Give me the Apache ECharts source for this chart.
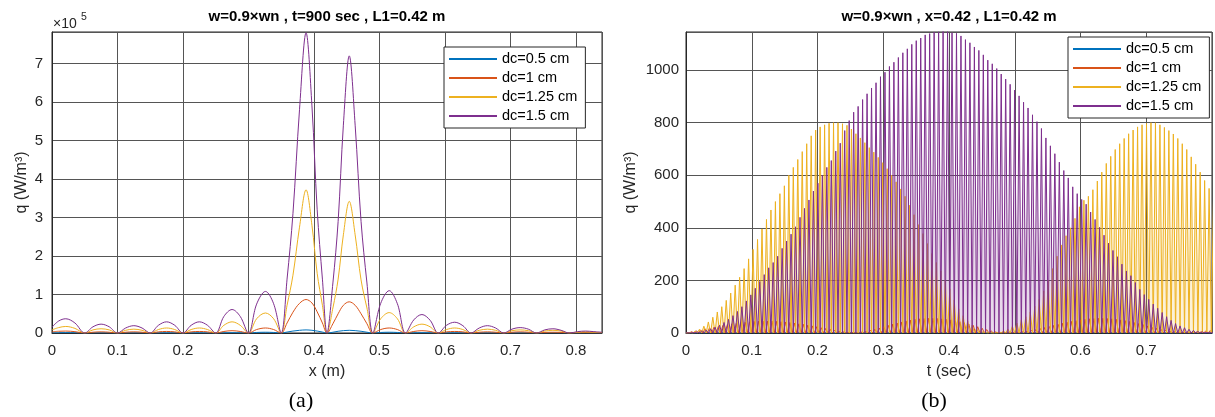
<!DOCTYPE html>
<html><head><meta charset="utf-8">
<script src="https://cdn.jsdelivr.net/npm/echarts@6/dist/echarts.min.js"></script>
<style>html,body{margin:0;padding:0;background:#fff}#c{width:1215px;height:417px}</style>
</head><body><div id="c"></div>
<script>
// ---------- data ----------
const seriesNames = ['dc=0.5 cm', 'dc=1 cm', 'dc=1.25 cm', 'dc=1.5 cm'];
const colors = ['#0072BD', '#D95319', '#EDB120', '#7E2F8E'];

// Chart (a): q (x10^5 W/m3) vs x (m)
const xA = [
  0, 0.01, 0.021, 0.035,
  0.05, 0.0625, 0.075, 0.0875,
  0.1, 0.1125, 0.125, 0.1375,
  0.15, 0.1625, 0.175, 0.1875,
  0.2, 0.2125, 0.225, 0.2375,
  0.25, 0.2625, 0.275, 0.2875,
  0.3, 0.3125, 0.326, 0.3385,
  0.35, 0.359, 0.368, 0.378, 0.388, 0.397, 0.405, 0.413,
  0.42, 0.429, 0.437, 0.445, 0.454, 0.463, 0.472, 0.481,
  0.49, 0.502, 0.515, 0.5275,
  0.54, 0.5525, 0.565, 0.5775,
  0.59, 0.6025, 0.615, 0.6275,
  0.64, 0.6525, 0.665, 0.6775,
  0.69, 0.7025, 0.715, 0.7275,
  0.74, 0.7525, 0.765, 0.7775,
  0.79, 0.8025, 0.815, 0.8275,
  0.84];
const qA_05 = [
  0.005, 0.008, 0.01, 0.007,
  0, 0.004, 0.006, 0.004,
  0, 0.004, 0.006, 0.004,
  0, 0.004, 0.006, 0.004,
  0, 0.004, 0.006, 0.004,
  0, 0.006, 0.008, 0.006,
  0, 0.014, 0.02, 0.014,
  0, 0.025, 0.05, 0.07, 0.08, 0.07, 0.05, 0.025,
  0, 0.02, 0.045, 0.062, 0.07, 0.062, 0.045, 0.02,
  0, 0.014, 0.02, 0.014,
  0, 0.006, 0.008, 0.006,
  0, 0.004, 0.006, 0.004,
  0, 0.004, 0.006, 0.004,
  0, 0.004, 0.006, 0.004,
  0, 0.004, 0.006, 0.004,
  0, 0.003, 0.004, 0.003,
  0];
const qA_1 = [
  0.03, 0.045, 0.05, 0.035,
  0, 0.02, 0.03, 0.02,
  0, 0.02, 0.03, 0.02,
  0, 0.03, 0.04, 0.03,
  0, 0.03, 0.04, 0.03,
  0, 0.04, 0.06, 0.04,
  0, 0.09, 0.13, 0.09,
  0, 0.26, 0.54, 0.77, 0.87, 0.78, 0.55, 0.26,
  0, 0.24, 0.5, 0.72, 0.81, 0.72, 0.5, 0.24,
  0, 0.09, 0.13, 0.09,
  0, 0.04, 0.06, 0.04,
  0, 0.03, 0.04, 0.03,
  0, 0.02, 0.03, 0.02,
  0, 0.02, 0.03, 0.02,
  0, 0.015, 0.02, 0.015,
  0, 0.007, 0.01, 0.007,
  0.005];
const qA_125 = [
  0.08, 0.14, 0.17, 0.12,
  0, 0.08, 0.11, 0.08,
  0, 0.07, 0.10, 0.07,
  0, 0.09, 0.13, 0.09,
  0, 0.09, 0.13, 0.09,
  0, 0.2, 0.29, 0.2,
  0, 0.37, 0.52, 0.37,
  0, 0.72, 1.5, 2.75, 3.72, 2.8, 1.55, 0.72,
  0, 0.65, 1.4, 2.55, 3.42, 2.55, 1.38, 0.65,
  0, 0.37, 0.53, 0.37,
  0, 0.16, 0.23, 0.16,
  0, 0.09, 0.13, 0.09,
  0, 0.07, 0.10, 0.07,
  0, 0.06, 0.08, 0.06,
  0, 0.05, 0.07, 0.05,
  0, 0.02, 0.03, 0.02,
  0.01];
const qA_15 = [
  0.15, 0.31, 0.37, 0.26,
  0, 0.16, 0.23, 0.16,
  0, 0.13, 0.19, 0.13,
  0, 0.2, 0.29, 0.2,
  0, 0.2, 0.29, 0.2,
  0, 0.43, 0.61, 0.43,
  0, 0.75, 1.08, 0.76,
  0, 1.4, 3.1, 5.8, 7.8, 5.9, 3.2, 1.4,
  0, 1.3, 2.9, 5.4, 7.2, 5.4, 2.9, 1.3,
  0, 0.77, 1.10, 0.76,
  0, 0.34, 0.48, 0.33,
  0, 0.2, 0.28, 0.19,
  0, 0.13, 0.19, 0.13,
  0, 0.1, 0.14, 0.1,
  0, 0.08, 0.11, 0.07,
  0, 0.035, 0.05, 0.035,
  0.02];

// Chart (b): q (W/m3) vs t (sec) - peak value of each oscillation, troughs at 0
const tStep = 0.0068;
const tPhase = [0.0051, 0.0017, 0.0068, 0.0034];
const qB_05 = [0,0,1,1,1,1,2,2,2,2, 2,2,2,3,3,3,3,3,3,3, 3,3,3,3,2,2,2,2,2,1,
  1,1,1,1,1,1,1,1,1,1, 2,2,2,2,3,3,3,3,4,4, 4,4,4,4,4,4,4,4,4,4,
  4,3,3,3,3,2,2,2,1,1, 1,1,1,1,1,2,2,2,3,3, 3,3,4,4,4,4,4,4,4,4,
  4,4,3,3,3,3,2,2,2,1, 1,1,1,1,1,1,1,1,1,1, 1,1,1,1,1,1,1,1];
const qB_1 = [1,5,9,12,16,19,22,26,29,32, 35,37,39,41,43,44,45,45,45,45,
  44,43,42,40,38,35,33,30,27,24, 20,17,14,10,7,4,2,1,1,3,
  6,10,14,19,24,29,34,38,42,46, 49,52,54,55,56,56,55,54,52,50,
  47,43,39,34,29,24,18,13,8,4, 2,1,1,2,3,5,7,10,13,17,
  21,25,29,33,37,41,44,47,50,52, 54,55,56,56,55,54,52,50,47,44,
  40,36,32,27,22,18,14,10,7,5, 3,2,2,3,4,5,7,9];
const qB_125 = [2,6,14,26,42,60,80,100,124,152, 182,212,245,282,318,356,396,432,468,500,
  530,560,600,630,660,690,720,750,772,784, 792,798,800,800,796,790,776,758,742,724,
  705,688,668,648,625,600,575,548,520,486, 450,412,378,340,302,268,236,200,168,126,
  92,66,46,30,18,10,5,2,1,3, 8,15,26,38,50,62,80,102,128,160,
  200,245,292,335,370,400,436,480,505,520, 545,578,612,645,672,698,720,740,758,772,
  784,792,797,800,800,792,782,770,757,740, 720,698,670,642,612,580,550,520];
const qB_15 = [1,2,4,7,11,16,22,30,40,52, 66,82,100,122,145,170,196,222,248,268,
  292,322,350,376,404,440,474,506,540,570, 600,630,656,692,722,770,808,840,862,888,
  910,932,952,975,992,1014,1030,1048,1066,1081, 1098,1112,1122,1134,1139,1144,1146,1148,1147,1142,
  1140,1130,1116,1104,1088,1075,1058,1038,1024,1006, 985,966,946,924,902,878,856,830,804,778,
  742,712,682,650,618,590,556,530,508,490, 460,432,402,372,342,314,290,262,236,218,
  192,166,146,128,110,94,78,62,48,36, 27,20,14,10,6,4,2,1];

// ---------- build ----------
const FONT = '"Liberation Sans", Arial, Helvetica, sans-serif';
function pairs(xs, ys) { return xs.map((x, i) => [x, ys[i]]); }
function spikes(peaks, phase) {
  const d = [[0, 0]];
  peaks.forEach((p, i) => {
    const t = phase + i * tStep;
    d.push([t, p]);
    d.push([t + tStep / 2, 0]);
  });
  return d;
}
const aSets = [qA_05, qA_1, qA_125, qA_15];
const bSets = [qB_05, qB_1, qB_125, qB_15];

const axisLabel = { color: '#262626', fontSize: 15, fontFamily: FONT, formatter: v => String(+v.toFixed(2)) };
const splitLine = { show: true, lineStyle: { color: '#555', width: 1 } };
const axisLine = { show: true, lineStyle: { color: '#262626', width: 1 } };
const nameStyle = { color: '#262626', fontSize: 16, fontFamily: FONT };

const series = [];
aSets.forEach((arr, k) => series.push({
  name: seriesNames[k], type: 'line', xAxisIndex: 0, yAxisIndex: 0,
  data: pairs(xA, arr), smooth: 0.35, symbol: 'none', showSymbol: false,
  lineStyle: { width: 1, color: colors[k] }, itemStyle: { color: colors[k] }
}));
bSets.forEach((arr, k) => series.push({
  name: seriesNames[k], type: 'line', xAxisIndex: 1, yAxisIndex: 1,
  data: spikes(arr, tPhase[k]), symbol: 'none', showSymbol: false,
  lineStyle: { width: 1, color: colors[k] }, itemStyle: { color: colors[k] },
  areaStyle: k >= 2 ? { color: colors[k], opacity: 0.18 } : undefined
}));

const legendBase = {
  orient: 'vertical', data: seriesNames, icon: 'rect', itemWidth: 48, itemHeight: 2,
  itemGap: 3, padding: [4, 8, 4, 5], backgroundColor: '#fff',
  borderColor: '#262626', borderWidth: 1, selectedMode: false,
  textStyle: { color: '#000', fontSize: 14.5, fontFamily: FONT, lineHeight: 16 }
};

const option = {
  animation: false,
  backgroundColor: '#fff',
  grid: [
    { left: 52, top: 32, width: 550, height: 301, show: true, borderColor: '#262626', borderWidth: 1 },
    { left: 686, top: 32, width: 526, height: 301, show: true, borderColor: '#262626', borderWidth: 1 }
  ],
  xAxis: [
    { type: 'value', gridIndex: 0, min: 0, max: 0.84, interval: 0.1,
      axisLabel: Object.assign({ margin: 10, showMaxLabel: false }, axisLabel),
      axisTick: { show: false }, axisLine, splitLine,
      name: 'x (m)', nameLocation: 'middle', nameGap: 31, nameTextStyle: nameStyle },
    { type: 'value', gridIndex: 1, min: 0, max: 0.8, interval: 0.1,
      axisLabel: Object.assign({ margin: 10, showMaxLabel: false }, axisLabel),
      axisTick: { show: false }, axisLine, splitLine,
      name: 't (sec)', nameLocation: 'middle', nameGap: 31, nameTextStyle: nameStyle }
  ],
  yAxis: [
    { type: 'value', gridIndex: 0, min: 0, max: 7.82, interval: 1,
      axisLabel: Object.assign({ margin: 9, showMaxLabel: false }, axisLabel),
      axisTick: { show: false }, axisLine, splitLine,
      name: 'q (W/m³)', nameLocation: 'middle', nameGap: 22, nameTextStyle: nameStyle },
    { type: 'value', gridIndex: 1, min: 0, max: 1145, interval: 200,
      axisLabel: Object.assign({ margin: 7, showMaxLabel: false }, axisLabel),
      axisTick: { show: false }, axisLine, splitLine,
      name: 'q (W/m³)', nameLocation: 'middle', nameGap: 47, nameTextStyle: nameStyle }
  ],
  legend: [
    Object.assign({}, legendBase, { left: 444, top: 47 }),
    Object.assign({}, legendBase, { left: 1068, top: 37 })
  ],
  graphic: [
    { type: 'text', x: 327, y: 17, style: { text: 'w=0.9×wn , t=900 sec , L1=0.42 m', align: 'center', verticalAlign: 'middle', fontSize: 15, fontWeight: 'bold', fontFamily: FONT, fill: '#000' } },
    { type: 'text', x: 949, y: 17, style: { text: 'w=0.9×wn , x=0.42 , L1=0.42 m', align: 'center', verticalAlign: 'middle', fontSize: 15, fontWeight: 'bold', fontFamily: FONT, fill: '#000' } },
    { type: 'text', x: 53, y: 24, style: { text: '×10', align: 'left', verticalAlign: 'middle', fontSize: 14, fontFamily: FONT, fill: '#262626' } },
    { type: 'text', x: 81, y: 17, style: { text: '5', align: 'left', verticalAlign: 'middle', fontSize: 10.5, fontFamily: FONT, fill: '#262626' } },
    { type: 'text', x: 301, y: 401, style: { text: '(a)', align: 'center', verticalAlign: 'middle', fontSize: 22, fontFamily: '"Liberation Serif", "Times New Roman", serif', fill: '#000' } },
    { type: 'text', x: 934, y: 401, style: { text: '(b)', align: 'center', verticalAlign: 'middle', fontSize: 22, fontFamily: '"Liberation Serif", "Times New Roman", serif', fill: '#000' } }
  ],
  series
};

const chart = echarts.init(document.getElementById('c'), null, { renderer: 'canvas' });
chart.setOption(option);
</script>
</body></html>
